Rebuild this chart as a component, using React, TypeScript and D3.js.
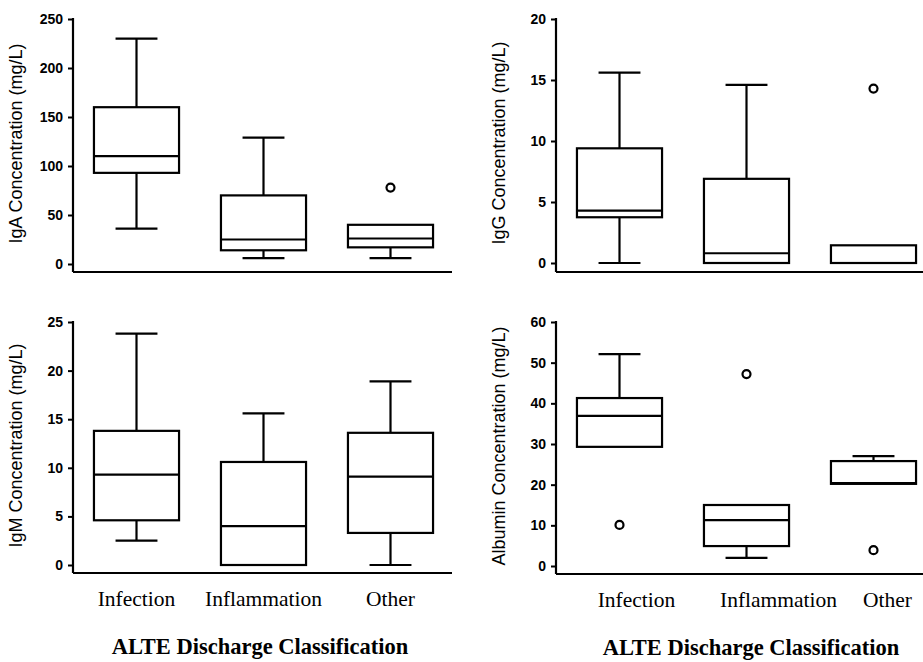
import React from 'react';
import * as d3 from 'd3';

// categories on every panel
const categories = ['Infection', 'Inflammation', 'Other'];

// box statistics: [min, q1, median, q3, max]
const igaStats = [
  [36, 93, 110, 160, 230],
  [6, 14, 25, 70, 129],
  [6, 17, 26, 40, 40],
];
const igaOutliers = [[], [], [78]];

const iggStats = [
  [0, 3.75, 4.3, 9.4, 15.6],
  [0, 0, 0.8, 6.9, 14.6],
  [0, 0, 0, 1.45, 1.45],
];
const iggOutliers = [[], [], [14.3]];

const igmStats = [
  [2.5, 4.6, 9.3, 13.8, 23.8],
  [0, 0, 4.0, 10.6, 15.6],
  [0, 3.3, 9.1, 13.6, 18.9],
];
const igmOutliers = [[], [], []];

const albStats = [
  [29.3, 29.3, 36.9, 41.3, 52.1],
  [2.0, 4.9, 11.3, 15, 15],
  [20.2, 20.2, 20.4, 25.8, 27],
];
const albOutliers = [[10.1], [47.2], [3.9]];

const igaTicks = [0, 50, 100, 150, 200, 250];
const iggTicks = [0, 5, 10, 15, 20];
const igmTicks = [0, 5, 10, 15, 20, 25];
const albTicks = [0, 10, 20, 30, 40, 50, 60];

const W = 923;
const H = 662;

type PanelProps = {
  stats: number[][];
  outliers: number[][];
  ticks: number[];
  yLabel: string;
  x0: number;
  yTop: number;
  yZero: number;
  axisY: number;
  axisEnd: number;
  labels?: boolean;
  labelShift?: number[];
  titleX?: number;
};

const Panel = ({ stats, outliers, ticks, yLabel, x0, yTop, yZero, axisY, axisEnd, labels, labelShift = [0, 0, 0], titleX = 0 }: PanelProps) => {
  const x = d3.scalePoint().domain(categories).range([x0, x0 + 381]).padding(0.5);
  const y = d3.scaleLinear().domain([0, ticks[ticks.length - 1]]).range([yZero, yTop]);
  const step = x.step();
  const boxW = step * 0.67;
  const capW = step * 0.33;

  const axisRef = (g: SVGGElement | null) => {
    if (!g) return;
    const sel = d3.select(g);
    sel.selectAll('*').remove();
    sel.call(d3.axisLeft(y).tickValues(ticks).tickSize(5).tickPadding(5).tickFormat(d3.format('d')) as any);
    sel.select('.domain').remove();
    sel.selectAll('.tick line').attr('stroke', '#000').attr('stroke-width', 2);
    sel.selectAll('.tick text')
      .attr('font-family', '"Liberation Sans", Arial, sans-serif')
      .attr('font-size', 14)
      .attr('font-weight', 'bold')
      .attr('fill', '#000');
  };

  return (
    <g>
      <g ref={axisRef} transform={`translate(${x0},0)`} />
      <line x1={x0} x2={x0} y1={yTop - 1} y2={axisY} stroke="#000" strokeWidth={2.2} />
      <line x1={x0} x2={axisEnd} y1={axisY} y2={axisY} stroke="#000" strokeWidth={2.2} />
      <text
        transform={`translate(${x0 - 51},${(yTop + yZero) / 2 + 2}) rotate(-90)`}
        textAnchor="middle"
        fontFamily='"Liberation Sans", Arial, sans-serif'
        fontSize={18}
        fill="#000"
      >
        {yLabel}
      </text>
      {categories.map((c, i) => {
        const cx = x(c) as number;
        const [mn, q1, md, q3, mx] = stats[i];
        return (
          <g key={c} stroke="#000" strokeWidth={2.2} fill="none">
            {mx > q3 && <line x1={cx} x2={cx} y1={y(mx)} y2={y(q3)} />}
            {mx > q3 && <line x1={cx - capW / 2} x2={cx + capW / 2} y1={y(mx)} y2={y(mx)} />}
            {mn < q1 && <line x1={cx} x2={cx} y1={y(q1)} y2={y(mn)} />}
            {(mn < q1 || mn === 0) && <line x1={cx - capW / 2} x2={cx + capW / 2} y1={y(mn)} y2={y(mn)} />}
            <rect x={cx - boxW / 2} y={y(q3)} width={boxW} height={y(q1) - y(q3)} fill="#fff" />
            <line x1={cx - boxW / 2} x2={cx + boxW / 2} y1={y(md)} y2={y(md)} />
            {outliers[i].map((o, j) => (
              <circle key={j} cx={cx} cy={y(o)} r={4} fill="#fff" />
            ))}
          </g>
        );
      })}
      {labels &&
        categories.map((c, i) => (
          <text
            key={c}
            x={(x(c) as number) + labelShift[i]}
            y={axisY + 33}
            textAnchor="middle"
            fontFamily='"Liberation Serif", "Times New Roman", serif'
            fontSize={21.5}
            fill="#000"
          >
            {c}
          </text>
        ))}
      {labels && (
        <text
          x={x0 + 190 + titleX}
          y={axisY + 81}
          textAnchor="middle"
          fontFamily='"Liberation Serif", "Times New Roman", serif'
          fontSize={22.5}
          fontWeight="bold"
          fill="#000"
        >
          ALTE Discharge Classification
        </text>
      )}
    </g>
  );
};

export default function App() {
  return (
    <svg width={W} height={H} style={{ position: 'absolute', left: 0, top: 0, background: '#fff' }}>
      <rect width={W} height={H} fill="#fff" />
      <Panel stats={igaStats} outliers={igaOutliers} ticks={igaTicks} yLabel="IgA Concentration (mg/L)"
        x0={73} yTop={19} yZero={264} axisY={272} axisEnd={452} />
      <Panel stats={iggStats} outliers={iggOutliers} ticks={iggTicks} yLabel="IgG Concentration (mg/L)"
        x0={556} yTop={19} yZero={263} axisY={272} axisEnd={923} />
      <Panel stats={igmStats} outliers={igmOutliers} ticks={igmTicks} yLabel="IgM Concentration (mg/L)"
        x0={73} yTop={322} yZero={565} axisY={573} axisEnd={452} labels titleX={-3} />
      <Panel stats={albStats} outliers={albOutliers} ticks={albTicks} yLabel="Albumin Concentration (mg/L)"
        x0={556} yTop={322} yZero={566} axisY={574} axisEnd={923} labels labelShift={[17, 32, 14]} titleX={5} />
    </svg>
  );
}
